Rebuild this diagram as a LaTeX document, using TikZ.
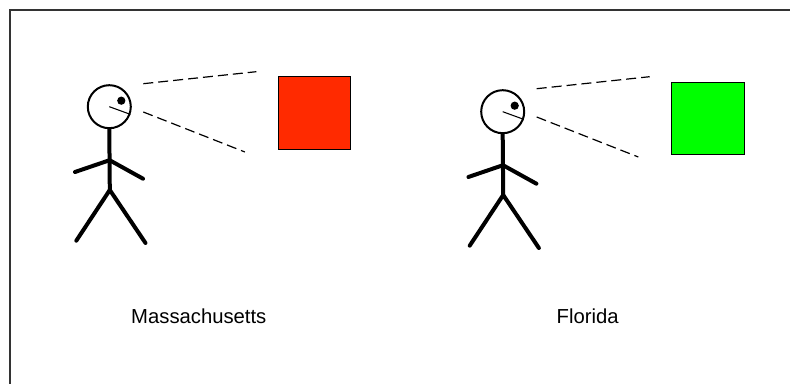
\documentclass[tikz,border=0pt]{standalone}
\usepackage{fontspec}
\setmainfont{Liberation Sans}
\definecolor{massred}{HTML}{FF2A00}
\definecolor{flagreen}{HTML}{00FF00}
\begin{document}
\begin{tikzpicture}[x=.75pt, y=-.75pt,
    limb/.style={line width=3pt, line cap=round},
    head/.style={circle, draw, line width=1.5pt, minimum size=32.25pt, inner sep=0pt},
    eye/.style={circle, fill, minimum size=6.2pt, inner sep=0pt},
    sight/.style={line width=.9pt, dash pattern=on 7.5pt off 3.75pt},
    seen/.style={draw, line width=.75pt, minimum size=54.3pt, inner sep=0pt},
    place/.style={anchor=base, font=\fontsize{15.2}{18}\selectfont}]
    \useasboundingbox (0,0) rectangle (790,384);
    \draw[line width=1.1pt, black!80] (790,9.8) -- (9.8,9.8) -- (9.8,384);
    \begin{scope}[shift={(109.3,106.7)}]
      \node[head] (head) at (0,0){};
      \node[eye] (eye) at (12,-6){};
      \draw[line width=.8pt](head.center)--(head.-20);
      \coordinate (hip) at (0.5,83.3);
      \coordinate (neck) at (0.3,53.5);
      \coordinate (lhand) at (-34.3,65.3);
      \coordinate (rhand) at (33.7,72);
      \coordinate (lfoot) at (-33,134);
      \coordinate (rfoot) at (36.2,136.3);
      \draw[limb](head.south)--(hip);
      \draw[limb](lhand)--(neck)--(rhand);
      \draw[limb](lfoot)--(hip)--(rfoot);
      \coordinate (up0) at (34,-23);
      \coordinate (up1) at (147,-35);
      \coordinate (lo0) at (34,5.3);
      \coordinate (lo1) at (135.6,45.3);
      \draw[sight](up0)--(up1);
      \draw[sight](lo0)--(lo1);
      \node[seen, fill=massred] (square) at (205.2,6.3){};
      \node[place] (state) at (89.5,217.3){Massachusetts};
    \end{scope}
    \begin{scope}[shift={(502.7,111.7)}]
      \node[head] (head) at (0,0){};
      \node[eye] (eye) at (12,-6){};
      \draw[line width=.8pt](head.center)--(head.-20);
      \coordinate (hip) at (0.5,83.3);
      \coordinate (neck) at (0.3,53.5);
      \coordinate (lhand) at (-34.3,65.3);
      \coordinate (rhand) at (33.7,72);
      \coordinate (lfoot) at (-33,134);
      \coordinate (rfoot) at (36.2,136.3);
      \draw[limb](head.south)--(hip);
      \draw[limb](lhand)--(neck)--(rhand);
      \draw[limb](lfoot)--(hip)--(rfoot);
      \coordinate (up0) at (34,-23);
      \coordinate (up1) at (147,-35);
      \coordinate (lo0) at (34,5.3);
      \coordinate (lo1) at (135.6,45.3);
      \draw[sight](up0)--(up1);
      \draw[sight](lo0)--(lo1);
      \node[seen, fill=flagreen] (square) at (205.2,6.8){};
      \node[place] (state) at (85,212.3){Florida};
    \end{scope}
  \end{tikzpicture}
\end{document}
